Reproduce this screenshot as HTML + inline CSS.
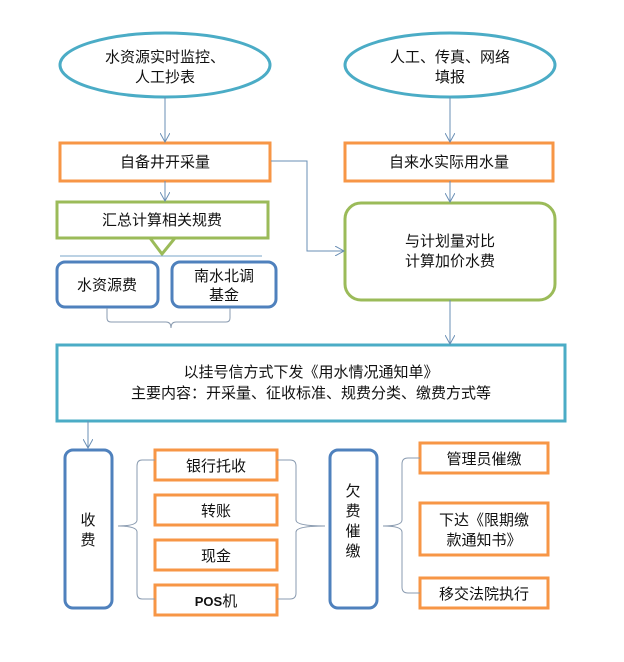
<!DOCTYPE html>
<html><head><meta charset="utf-8"><style>
body{margin:0;background:#fff}
text{font-family:"Liberation Sans","Noto Sans CJK SC",sans-serif;font-size:15px;fill:#111;text-anchor:middle}
</style></head><body>
<svg width="624" height="657" viewBox="0 0 624 657" xmlns="http://www.w3.org/2000/svg">
<defs><marker id="a" markerWidth="10" markerHeight="10" refX="9" refY="5" orient="auto" markerUnits="userSpaceOnUse"><path d="M0,0 L9,5 L0,10" fill="none" stroke="#6a8fb5" stroke-width="1"/></marker></defs>
<g fill="#fff" stroke-width="3">
<ellipse cx="165" cy="65" rx="105" ry="32" stroke="#4bacc6"/>
<ellipse cx="450" cy="65" rx="105" ry="32" stroke="#4bacc6"/>
<rect x="60" y="143" width="210" height="38" stroke="#f79646"/>
<rect x="345" y="143" width="208" height="38" stroke="#f79646"/>
<rect x="57" y="202" width="211" height="36" stroke="#9bbb59"/>
<rect x="345" y="203" width="210" height="97" rx="16" stroke="#9bbb59"/>
<rect x="57" y="262" width="101" height="45" rx="8" stroke="#4f81bd"/>
<rect x="172" y="262" width="104" height="45" rx="8" stroke="#4f81bd"/>
<rect x="57" y="345" width="508" height="76" stroke="#4bacc6"/>
<rect x="65" y="450" width="47" height="158" rx="8" stroke="#4f81bd"/>
<rect x="330" y="450" width="47" height="158" rx="8" stroke="#4f81bd"/>
<rect x="155" y="450" width="122" height="30" stroke="#f79646"/>
<rect x="155" y="495" width="122" height="30" stroke="#f79646"/>
<rect x="155" y="540" width="122" height="30" stroke="#f79646"/>
<rect x="155" y="585" width="122" height="30" stroke="#f79646"/>
<rect x="420" y="443" width="128" height="30" stroke="#f79646"/>
<rect x="420" y="503" width="128" height="52" stroke="#f79646"/>
<rect x="420" y="578" width="128" height="30" stroke="#f79646"/>
</g>
<path d="M150,238 H175 L162,254 Z" fill="#fff" stroke="#9bbb59" stroke-width="3"/>
<line x1="60" y1="256" x2="262" y2="256" stroke="#7aa5c9" stroke-width="1"/>
<g fill="none" stroke="#6a8fb5" stroke-width="1">
<line x1="165" y1="97" x2="165" y2="142" marker-end="url(#a)"/>
<line x1="450" y1="97" x2="450" y2="142" marker-end="url(#a)"/>
<line x1="165" y1="181" x2="165" y2="201" marker-end="url(#a)"/>
<line x1="450" y1="181" x2="450" y2="202" marker-end="url(#a)"/>
<polyline points="271,161 307,161 307,251 344,251" marker-end="url(#a)"/>
<line x1="450" y1="300" x2="450" y2="344" marker-end="url(#a)"/>
<line x1="88" y1="421" x2="88" y2="448" marker-end="url(#a)"/>
<path d="M107,308 V318 Q107,322 111,322 H166 Q171,322 171,328 Q171,322 176,322 H226 Q230,322 230,318 V308" stroke="#8a9bb0"/>
<path d="M155,460 H142 Q137,460 137,466 V520 Q137,526 118,526 Q137,526 137,532 V593 Q137,599 142,599 H155" stroke="#8a9bb0"/>
<path d="M277,460 H290 Q296,460 296,466 V520 Q296,526 325,526 Q296,526 296,532 V593 Q296,599 290,599 H277" stroke="#8a9bb0"/>
<path d="M420,458 H408 Q402,458 402,464 V520 Q402,526 383,526 Q402,526 402,532 V587 Q402,593 408,593 H420" stroke="#8a9bb0"/>
</g>
<text x="165" y="62">水资源实时监控、</text><text x="165" y="82">人工抄表</text>
<text x="450" y="62">人工、传真、网络</text><text x="450" y="82">填报</text>
<text x="165" y="167">自备井开采量</text>
<text x="449" y="167">自来水实际用水量</text>
<text x="162" y="225">汇总计算相关规费</text>
<text x="450" y="246">与计划量对比</text><text x="450" y="266">计算加价水费</text>
<text x="107" y="290">水资源费</text>
<text x="224" y="281">南水北调</text><text x="224" y="300">基金</text>
<text x="311" y="377">以挂号信方式下发《用水情况通知单》</text>
<text x="311" y="398">主要内容：开采量、征收标准、规费分类、缴费方式等</text>
<text x="88" y="525">收</text><text x="88" y="545">费</text>
<text x="353" y="496">欠</text><text x="353" y="516">费</text><text x="353" y="536">催</text><text x="353" y="556">缴</text>
<text x="216" y="471">银行托收</text>
<text x="216" y="516">转账</text>
<text x="216" y="561">现金</text>
<text x="216" y="606"><tspan font-weight="bold" font-size="13">POS</tspan>机</text>
<text x="484" y="464">管理员催缴</text>
<text x="484" y="525">下达《限期缴</text><text x="484" y="545">款通知书》</text>
<text x="484" y="599">移交法院执行</text>
</svg>
</body></html>
